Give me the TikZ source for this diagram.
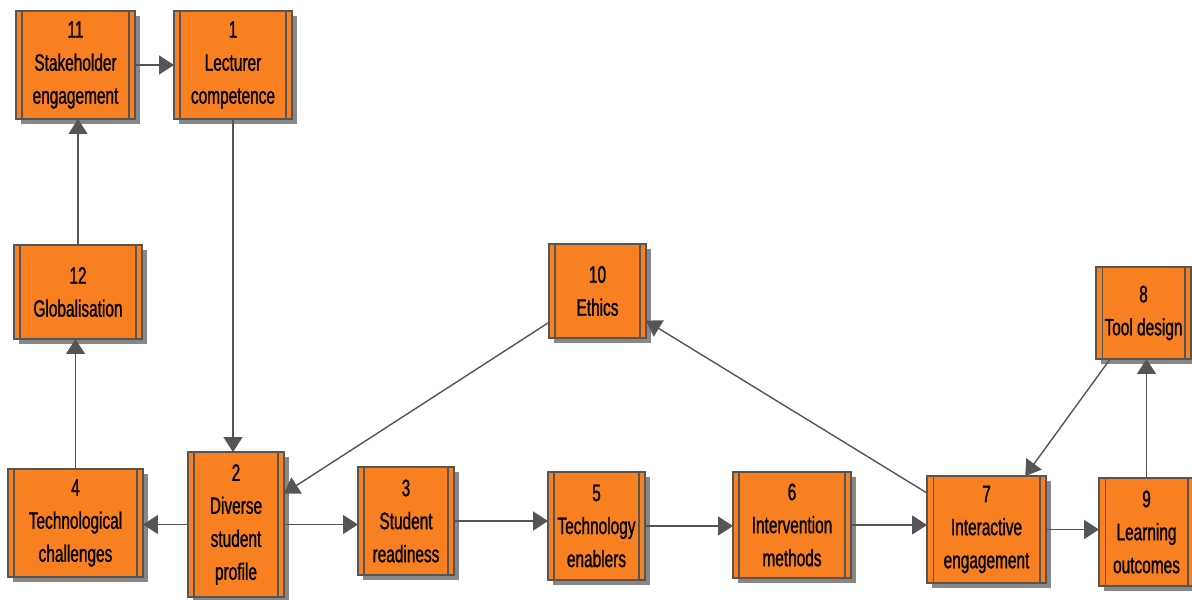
\documentclass[tikz,border=0pt]{standalone}
\usepackage{fontspec}
\setmainfont{Liberation Sans}[FakeStretch=0.65,FakeBold=1]
\usetikzlibrary{arrows.meta,shadows}

\definecolor{boxorange}{RGB}{248,128,32}
\definecolor{boxborder}{RGB}{85,85,85}
\definecolor{linkgray}{RGB}{85,85,85}
\definecolor{shadowgray}{RGB}{135,135,135}

\tikzset{
  factor/.style={draw=boxborder, line width=0.7pt, fill=boxorange, align=center,
    inner sep=0pt, outer sep=0pt,
    font=\fontsize{13.5}{18.8}\selectfont,
    drop shadow={shadow xshift=0.1cm, shadow yshift=-0.1cm, fill=shadowgray, opacity=1}},
  sideline/.style={draw=boxborder, line width=0.6pt},
  link/.style={draw=linkgray, line width=0.8pt, -{Triangle[length=0.3cm,width=0.38cm]}}
}

\begin{document}
\begin{tikzpicture}[x=0.02cm,y=-0.02cm]
  \useasboundingbox (0,0) rectangle (1192,599);

  % top left column
  \node[factor, minimum width=2.38cm, minimum height=2.16cm] (n11) at (75.5,65) {11\\Stakeholder\\engagement};
  \node[factor, minimum width=2.36cm, minimum height=2.16cm] (n1) at (233,65) {1\\Lecturer\\competence};
  \node[factor, minimum width=2.56cm, minimum height=1.88cm] (n12) at (78,292) {12\\Globalisation};
  \node[factor, minimum width=1.94cm, minimum height=1.88cm] (n10) at (597.5,291) {10\\Ethics};
  \node[factor, minimum width=1.90cm, minimum height=1.84cm] (n8) at (1143.5,313) {8\\Tool design};

  % bottom row
  \node[factor, minimum width=2.70cm, minimum height=2.16cm] (n4) at (75.5,523) {4\\Technological\\challenges};
  \node[factor, minimum width=1.92cm, minimum height=2.90cm] (n2) at (236,524.5) {2\\Diverse\\student\\profile};
  \node[factor, minimum width=1.92cm, minimum height=2.16cm] (n3) at (406,521) {3\\Student\\readiness};
  \node[factor, minimum width=1.94cm, minimum height=2.16cm] (n5) at (596.5,526) {5\\Technology\\enablers};
  \node[factor, minimum width=2.36cm, minimum height=2.12cm] (n6) at (792,525) {6\\Intervention\\methods};
  \node[factor, minimum width=2.38cm, minimum height=2.14cm] (n7) at (986.5,529.5) {7\\Interactive\\engagement};
  \node[factor, minimum width=1.90cm, minimum height=2.16cm] (n9) at (1146.5,532) {9\\Learning\\outcomes};

  % inner side lines
  \foreach \n in {n11,n1,n12,n10,n8,n4,n2,n3,n5,n6,n7,n9} {
    \draw[sideline] ([xshift=0.12cm]\n.north west) -- ([xshift=0.12cm]\n.south west);
    \draw[sideline] ([xshift=-0.12cm]\n.north east) -- ([xshift=-0.12cm]\n.south east);
  }

  % links
  \draw[link] (n11) -- (n1);
  \draw[link] (n1) -- (n1 |- n2.north);
  \draw[link] (n4) -- (n4 |- n12.south);
  \draw[link] (n12) -- (n12 |- n11.south);
  \draw[link] (n2) -- (n2 -| n4.east);
  \draw[link] (n2) -- (n2 -| n3.west);
  \draw[link] (n10) -- (n2);
  \draw[link] (n3) -- (n3 -| n5.west);
  \draw[link] (n5) -- (n5 -| n6.west);
  \draw[link] (n6) -- (n6 -| n7.west);
  \draw[link] (n7) -- (n10);
  \draw[link] (n8) -- (n7);
  \draw[link] (n7) -- (n7 -| n9.west);
  \draw[link] (n9) -- (n9 |- n8.south);
\end{tikzpicture}
\end{document}
